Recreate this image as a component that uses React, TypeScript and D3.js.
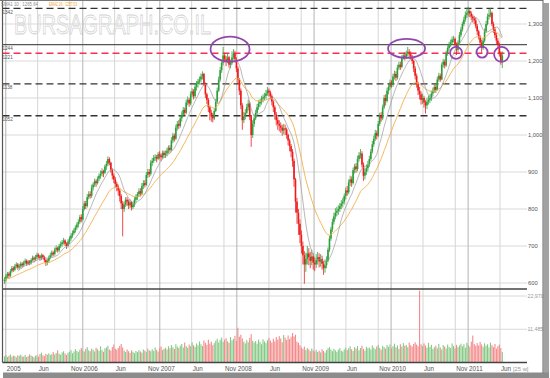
import React from 'react';
import * as d3 from 'd3';

const closes = [
  610, 618, 625, 620, 632, 640, 636, 645, 650, 642,
  645, 652, 648, 655, 660, 652, 658, 655, 662, 668,
  664, 670, 676, 672, 668, 675, 670, 662, 655, 660,
  668, 675, 682, 678, 690, 695, 688, 700, 705, 710,
  715, 706, 700, 712, 720, 728, 735, 742, 750, 758,
  765, 778, 772, 800, 815, 808, 832, 840, 836, 858,
  866, 875, 870, 882, 890, 895, 902, 898, 915, 922,
  935, 925, 905, 890, 880, 868, 860, 850, 835, 815,
  800, 812, 825, 820, 810, 818, 805, 812, 825, 832,
  840, 848, 842, 862, 870, 865, 892, 900, 895, 925,
  930, 938, 940, 936, 948, 945, 940, 952, 946, 950,
  958, 965, 960, 985, 998, 990, 1020, 1030, 1025, 1045,
  1055, 1068, 1060, 1088, 1095, 1085, 1110, 1118, 1105, 1130,
  1138, 1145, 1150, 1158, 1165, 1140, 1110, 1095, 1075, 1060,
  1050, 1045, 1065, 1090, 1120, 1150, 1175, 1195, 1215, 1205,
  1200, 1210, 1190, 1195, 1210, 1220, 1205, 1180, 1150, 1120,
  1080, 1040, 1050, 1060, 1075, 1085, 1050, 1000, 1030, 1045,
  1060, 1075, 1085, 1090, 1098, 1102, 1105, 1112, 1120, 1115,
  1105, 1090, 1075, 1055, 1040, 1030, 1025, 1020, 1012, 1018,
  1015, 1000, 985, 970, 955, 930, 880, 820, 790, 760,
  730, 700, 675, 650, 665, 680, 670, 660, 672, 655,
  650, 662, 670, 658, 665, 652, 640, 648, 660, 690,
  720, 745, 765, 780, 790, 795, 800, 808, 815, 820,
  835, 850, 845, 872, 880, 870, 905, 915, 908, 935,
  945, 950, 920, 890, 900, 910, 920, 935, 955, 975,
  990, 1005, 998, 1030, 1052, 1045, 1075, 1100, 1092, 1120,
  1130, 1142, 1135, 1158, 1165, 1155, 1182, 1190, 1184, 1208,
  1215, 1210, 1220, 1225, 1218, 1212, 1200, 1180, 1160, 1140,
  1120, 1110, 1095, 1100, 1088, 1080, 1090, 1095, 1100, 1112,
  1120, 1130, 1122, 1150, 1160, 1150, 1190, 1198, 1188, 1220,
  1235, 1245, 1250, 1258, 1260, 1245, 1230, 1250, 1270, 1285,
  1300, 1312, 1325, 1330, 1335, 1328, 1320, 1315, 1310, 1295,
  1280, 1265, 1250, 1235, 1255, 1280, 1300, 1320, 1325, 1330,
  1300, 1285, 1270, 1255, 1245, 1220, 1200, 1215,
];

const highs = [
  616, 624, 630, 630, 638, 646, 645, 651, 656, 654,
  652, 658, 656, 660, 666, 664, 662, 662, 667, 674,
  672, 676, 682, 680, 676, 680, 678, 674, 666, 666,
  674, 682, 688, 686, 696, 702, 698, 706, 712, 716,
  722, 718, 710, 718, 726, 734, 742, 748, 756, 764,
  772, 784, 786, 808, 822, 822, 840, 848, 848, 866,
  872, 882, 880, 888, 896, 904, 910, 906, 920, 930,
  942, 940, 928, 910, 896, 886, 874, 866, 856, 840,
  822, 820, 832, 832, 826, 826, 822, 820, 832, 840,
  846, 856, 856, 870, 878, 878, 900, 908, 908, 932,
  938, 946, 948, 946, 954, 956, 950, 958, 958, 958,
  966, 972, 972, 994, 1006, 1004, 1028, 1038, 1040, 1054,
  1064, 1076, 1074, 1096, 1104, 1100, 1118, 1126, 1124, 1140,
  1146, 1152, 1158, 1166, 1172, 1168, 1142, 1114, 1100, 1080,
  1068, 1060, 1072, 1098, 1128, 1158, 1184, 1204, 1238, 1222,
  1214, 1222, 1214, 1204, 1226, 1232, 1228, 1210, 1186, 1154,
  1126, 1086, 1062, 1070, 1084, 1096, 1090, 1054, 1040, 1056,
  1068, 1084, 1094, 1098, 1106, 1110, 1114, 1122, 1130, 1126,
  1120, 1110, 1094, 1080, 1062, 1048, 1040, 1034, 1028, 1030,
  1028, 1020, 1004, 990, 976, 962, 936, 884, 830, 800,
  772, 742, 712, 686, 682, 700, 694, 684, 690, 680,
  668, 678, 684, 680, 678, 674, 660, 664, 672, 696,
  728, 752, 774, 790, 802, 806, 810, 816, 824, 830,
  842, 858, 862, 880, 890, 888, 912, 922, 924, 944,
  954, 962, 956, 926, 910, 920, 930, 944, 962, 984,
  998, 1014, 1012, 1038, 1060, 1062, 1082, 1108, 1110, 1128,
  1138, 1150, 1148, 1166, 1174, 1172, 1190, 1198, 1198, 1216,
  1222, 1224, 1228, 1238, 1232, 1226, 1216, 1204, 1186, 1166,
  1144, 1130, 1118, 1112, 1106, 1094, 1100, 1106, 1110, 1120,
  1128, 1138, 1136, 1158, 1168, 1166, 1196, 1206, 1204, 1228,
  1242, 1252, 1258, 1266, 1268, 1264, 1250, 1256, 1278, 1292,
  1306, 1320, 1334, 1344, 1346, 1340, 1334, 1326, 1322, 1318,
  1300, 1284, 1270, 1258, 1262, 1288, 1308, 1328, 1340, 1343,
  1334, 1306, 1292, 1276, 1262, 1250, 1226, 1226,
];

const lows = [
  598, 604, 612, 612, 616, 628, 630, 632, 640, 636,
  636, 640, 642, 644, 650, 646, 648, 648, 650, 658,
  656, 660, 664, 666, 660, 662, 664, 656, 646, 648,
  654, 664, 670, 672, 674, 684, 682, 684, 694, 698,
  704, 700, 692, 696, 706, 714, 722, 730, 736, 744,
  750, 760, 764, 768, 796, 800, 804, 826, 828, 830,
  850, 860, 860, 866, 876, 882, 888, 886, 894, 906,
  916, 918, 898, 880, 870, 858, 848, 836, 820, 800,
  726, 792, 806, 808, 800, 802, 796, 800, 806, 818,
  824, 832, 834, 838, 854, 858, 862, 884, 886, 890,
  916, 924, 930, 926, 932, 936, 930, 936, 938, 938,
  942, 950, 952, 956, 978, 982, 986, 1012, 1016, 1020,
  1036, 1050, 1052, 1056, 1080, 1076, 1080, 1102, 1096, 1100,
  1120, 1128, 1136, 1142, 1150, 1132, 1100, 1084, 1062, 1040,
  1036, 1034, 1040, 1062, 1086, 1116, 1144, 1168, 1188, 1196,
  1186, 1194, 1182, 1180, 1190, 1204, 1196, 1170, 1140, 1108,
  1070, 1014, 1032, 1042, 1056, 1066, 1040, 968, 992, 1022,
  1040, 1054, 1068, 1076, 1082, 1088, 1094, 1098, 1106, 1104,
  1096, 1080, 1062, 1042, 1026, 1014, 1010, 1006, 998, 1002,
  1000, 990, 972, 956, 940, 914, 860, 790, 760, 730,
  708, 680, 650, 598, 630, 650, 648, 640, 648, 636,
  632, 640, 650, 642, 644, 636, 622, 628, 640, 656,
  684, 714, 738, 758, 772, 780, 784, 792, 800, 804,
  812, 826, 836, 840, 862, 860, 866, 896, 898, 902,
  928, 936, 912, 876, 880, 892, 902, 914, 930, 950,
  968, 984, 988, 994, 1024, 1036, 1040, 1070, 1080, 1088,
  1110, 1122, 1128, 1130, 1150, 1146, 1150, 1176, 1176, 1180,
  1204, 1202, 1206, 1212, 1208, 1204, 1192, 1170, 1150, 1128,
  1108, 1096, 1082, 1084, 1074, 1058, 1070, 1082, 1086, 1092,
  1104, 1114, 1114, 1120, 1144, 1144, 1148, 1182, 1180, 1184,
  1214, 1228, 1238, 1244, 1250, 1238, 1216, 1224, 1246, 1264,
  1280, 1294, 1306, 1316, 1320, 1318, 1310, 1304, 1300, 1288,
  1270, 1258, 1240, 1222, 1230, 1250, 1276, 1296, 1312, 1318,
  1294, 1276, 1262, 1246, 1236, 1212, 1190, 1181,
];

const volumes = [
  2100, 2600, 1900, 2300, 2800, 2000, 2400, 2200, 1800, 2500,
  2300, 2700, 2100, 2000, 2600, 1900, 2200, 2800, 2400, 2100,
  1800, 2300, 2600, 2000, 2900, 3400, 2500, 2200, 3000, 2700,
  3200, 2600, 2900, 3600, 2800, 3300, 4200, 3000, 2700, 3500,
  3900, 3100, 2600, 3400, 3700, 4300, 3200, 3800, 4600, 4000,
  3600, 4400, 5000, 4100, 3800, 4700, 5300, 4200, 3900, 4800,
  4400, 3800, 5100, 4600, 4000, 5600, 4300, 3700, 4900, 5200,
  5800, 4500, 4100, 5300, 6200, 4800, 4400, 5000, 5700, 6400,
  5200, 4100, 3600, 4500, 3900, 3300, 4200, 3700, 3200, 4000,
  3600, 4300, 3800, 3400, 4500, 4100, 3700, 4800, 4200, 3900,
  4600, 4000, 5200, 4400, 3800, 4900, 5500, 4300, 4700, 5100,
  4500, 5600, 4900, 6000, 5300, 4700, 6300, 5500, 5000, 5800,
  6400, 5200, 6900, 5700, 5100, 6200, 5600, 7000, 6000, 5400,
  6600, 5900, 7300, 6300, 5700, 7600, 6800, 6100, 7900, 6500,
  7200, 6000, 6700, 7500, 8200, 6900, 7800, 8600, 7100, 7900,
  8400, 7300, 6800, 8800, 7600, 8100, 9200, 7400, 12000, 8900,
  9600, 8300, 7200, 6600, 7700, 7000, 8500, 9800, 7500, 6900,
  7400, 6500, 7900, 7100, 6300, 8000, 7300, 6700, 7700, 8400,
  7600, 6900, 8200, 7300, 8800, 7900, 9100, 8300, 7000, 9500,
  8600, 7800, 9300, 8100, 8900, 10200, 9000, 9600, 7200, 6800,
  6000, 5200, 4700, 5500, 4300, 5000, 4500, 3900, 4800, 4200,
  3800, 4400, 3600, 4100, 3500, 4600, 4000, 3400, 4300, 4900,
  5300, 4500, 3900, 4700, 4200, 3700, 4400, 5000, 4100, 3800,
  4500, 5100, 4300, 4900, 5600, 4600, 4000, 5300, 4800, 5700,
  4200, 5000, 5800, 4700, 4100, 5400, 4900, 5200, 4500, 5900,
  5100, 4600, 5500, 6100, 5000, 4400, 5700, 5300, 4800, 6000,
  5400, 6200, 4900, 5600, 6500, 5200, 5900, 4700, 6300, 5500,
  6700, 5800, 6100, 5300, 6900, 6000, 5500, 6400, 7000, 6200,
  5600, 24800, 6300, 5700, 6600, 5900, 5100, 6800, 5400, 6100,
  4700, 5300, 5800, 4900, 6400, 5200, 4500, 6000, 5500, 4800,
  6200, 5400, 5000, 6600, 5700, 4900, 6100, 5300, 5900, 6500,
  5600, 6300, 5100, 6800, 6000, 5500, 7200, 9300, 6400, 5800,
  6700, 5900, 7100, 6200, 5400, 6600, 5800, 6300, 5200, 6900,
  6000, 5300, 6400, 4800, 5600, 6200, 5000, 3600,
];

const firstOpen = 605;

const tickDates = [
  '2005-01-01', '2005-06-01', '2005-11-01',
  '2006-01-01', '2006-06-01', '2006-11-01',
  '2007-01-01', '2007-06-01', '2007-11-01',
  '2008-01-01', '2008-06-01', '2008-11-01',
  '2009-01-01', '2009-06-01', '2009-11-01',
  '2010-01-01', '2010-06-01', '2010-11-01',
  '2011-01-01', '2011-06-01',
];
const tickLabels = [
  '2005', 'Jun', 'Nov', '2006', 'Jun', 'Nov', '2007', 'Jun', 'Nov',
  '2008', 'Jun', 'Nov', '2009', 'Jun', 'Nov', '2010', 'Jun', 'Nov',
  '2011', 'Jun',
];

const priceTicks = [600, 700, 800, 900, 1000, 1100, 1200, 1300];
const volumeTicks = [11485, 22970];

const levelValues = [1342, 1244, 1221, 1138, 1052];
const levelKinds = ['dash', 'solid', 'red', 'dash', 'dash'];

// annotation ellipses: week index, price, radii
const ellipseWeeks = [152.7, 272.2, 305.7, 323.3, 336.5];
const ellipsePrices = [1232, 1234, 1222, 1224, 1218];
const ellipseRx = [19.5, 18.5, 6, 5.5, 7.5];
const ellipseRy = [12.5, 9.5, 6, 5.5, 7.5];

const smaLabel = 'SMA1 10 : 1265.64';
const emaLabel = 'EMA2 26 : 1257.03';

const FONT = '"Liberation Sans", Arial, sans-serif';

export default function App() {
  const N = closes.length;
  const parse = d3.timeParse('%Y-%m-%d');
  const dates = closes.map((_, i) => new Date(2004, 11, 26 + 7 * i));

  const left = 2.5;
  const right = 527;
  const top = 1;
  const priceBottom = 289;
  const volBottom = 362.5;

  const xt = d3.scaleTime().domain([dates[0], dates[N - 1]]).range([4.5, 502.3]);
  const xi = d3.scaleLinear().domain([0, N - 1]).range([4.5, 502.3]);
  const y = d3.scaleLinear().domain([600, 1300]).range([283, 24]);
  const yv = d3.scaleLinear().domain([0, 22970]).range([volBottom, 296]);

  const opens = closes.map((c, i) => (i === 0 ? firstOpen : closes[i - 1]));

  const sma: (number | null)[] = closes.map((_, i) =>
    i < 9 ? null : (d3.mean(closes.slice(i - 9, i + 1)) as number)
  );
  const alpha = 2 / 27;
  const ema: number[] = [];
  closes.forEach((c, i) => {
    ema.push(i === 0 ? c : alpha * c + (1 - alpha) * ema[i - 1]);
  });

  const smaLine = d3
    .line<number | null>()
    .defined((d) => d !== null)
    .x((_, i) => xi(i))
    .y((d) => y(d as number));
  const emaLine = d3
    .line<number>()
    .x((_, i) => xi(i))
    .y((d) => y(d));

  const green = '#2f9e3a';
  const red = '#f01a1a';
  const vGreen = '#86c986';
  const vRed = '#f48a8a';

  const fmt = d3.format(',');
  const ticks = tickDates.map((d, i) => ({
    x: xt(parse(d) as Date),
    label: tickLabels[i],
    year: /^\d{4}$/.test(tickLabels[i]),
  }));

  return (
    <svg
      width={550}
      height={378}
      style={{ position: 'absolute', left: 0, top: 0, background: '#fff' }}
      fontFamily={FONT}
    >
      <defs>
        <clipPath id="pricePanel">
          <rect x={left} y={top} width={right - left} height={priceBottom - top} />
        </clipPath>
      </defs>
      <rect x={0} y={0} width={550} height={378} fill="#fff" />

      {/* watermark */}
      <text
        x={14}
        y={34}
        fontSize={27}
        textLength={197}
        lengthAdjust="spacingAndGlyphs"
        fill="none"
        stroke="#d2d2d2"
        strokeWidth={0.8}
        fontFamily={FONT}
      >
        BURSAGRAPH.CO.IL
      </text>

      {priceTicks.map((v) => (
        <line key={'pg' + v} x1={left} x2={right} y1={y(v)} y2={y(v)} stroke="#d9d9d9" strokeWidth={1} />
      ))}
      {volumeTicks.map((v) => (
        <line key={'vg' + v} x1={left} x2={right} y1={yv(v)} y2={yv(v)} stroke="#d9d9d9" strokeWidth={1} />
      ))}
      {ticks.map((t, i) => (
        <line
          key={'vx' + i}
          x1={t.x}
          x2={t.x}
          y1={top}
          y2={volBottom}
          stroke={t.year ? '#b4b4b4' : '#d6d6d6'}
          strokeWidth={1}
        />
      ))}

      {levelValues.map((v, i) => {
        const k = levelKinds[i];
        return (
          <line
            key={'lv' + v}
            x1={left}
            x2={right}
            y1={y(v)}
            y2={y(v)}
            stroke={k === 'red' ? '#ff2d55' : k === 'solid' ? '#555' : '#333'}
            strokeWidth={k === 'solid' ? 1.2 : 1.3}
            strokeDasharray={k === 'solid' ? undefined : '7,4'}
          />
        );
      })}
      {levelValues.map((v) => (
        <text key={'ll' + v} x={2.5} y={y(v) + 5.3} fontSize={4.6} fill="#555">
          {v}
        </text>
      ))}

      {volumes.map((v, i) => (
        <rect
          key={'vb' + i}
          x={xi(i) - 0.55}
          width={1.1}
          y={yv(v)}
          height={volBottom - yv(v)}
          fill={closes[i] >= opens[i] ? vGreen : vRed}
        />
      ))}

      {closes.map((c, i) => {
        const o = opens[i];
        const up = c >= o;
        const col = up ? green : red;
        const yTop = y(Math.max(o, c));
        const yBot = y(Math.min(o, c));
        const hi = Math.max(highs[i], o, c);
        const lo = Math.min(lows[i], o, c);
        return (
          <g key={'c' + i}>
            <line x1={xi(i)} x2={xi(i)} y1={y(hi)} y2={y(lo)} stroke={col} strokeWidth={0.8} />
            <rect x={xi(i) - 0.8} width={1.6} y={yTop} height={Math.max(0.8, yBot - yTop)} fill={col} />
          </g>
        );
      })}

      <g clipPath="url(#pricePanel)">
        <path d={emaLine(ema) || ''} fill="none" stroke="#f3b04a" strokeWidth={0.9} />
        <path d={smaLine(sma) || ''} fill="none" stroke="#9a9a9a" strokeWidth={0.7} />
      </g>

      {ellipseWeeks.map((w, i) => (
        <ellipse
          key={'el' + i}
          cx={xi(w)}
          cy={y(ellipsePrices[i])}
          rx={ellipseRx[i]}
          ry={ellipseRy[i]}
          fill="none"
          stroke="#9446b0"
          strokeWidth={1.8}
        />
      ))}

      <line x1={left} x2={right} y1={priceBottom} y2={priceBottom} stroke="#444" strokeWidth={1.4} />
      <line x1={left} x2={right} y1={volBottom} y2={volBottom} stroke="#444" strokeWidth={1.4} />
      <line x1={left} x2={left} y1={0} y2={volBottom} stroke="#555" strokeWidth={1.2} />
      <line x1={0} x2={543} y1={0.5} y2={0.5} stroke="#777" strokeWidth={1} />

      {priceTicks.map((v) => (
        <text key={'pl' + v} x={528} y={y(v) + 2.1} fontSize={5.8} fill="#555">
          {fmt(v)}
        </text>
      ))}
      {volumeTicks.map((v) => (
        <text key={'vl' + v} x={527.5} y={yv(v) + 2.1} fontSize={5.3} fill="#999">
          {fmt(v)}
        </text>
      ))}

      {ticks.map((t, i) => (
        <text key={'xl' + i} x={t.x + 1} y={371} fontSize={6.3} fill="#555">
          {t.label}
        </text>
      ))}
      <text x={513} y={370.5} fontSize={5.8} fill="#999">
        [25 w]
      </text>

      <text x={1} y={6} fontSize={4.8} fill="#8a8a8a" textLength={37} lengthAdjust="spacingAndGlyphs">
        {smaLabel}
      </text>
      <text x={49} y={6} fontSize={4.8} fill="#f0a030" textLength={28} lengthAdjust="spacingAndGlyphs">
        {emaLabel}
      </text>

      <rect x={543.5} y={3} width={5.5} height={375} fill="#a2a2a2" />
      <rect x={3} y={372.5} width={546} height={5.5} fill="#8c8c8c" />
      <line x1={543} x2={543} y1={0} y2={373} stroke="#666" strokeWidth={1} />
    </svg>
  );
}
